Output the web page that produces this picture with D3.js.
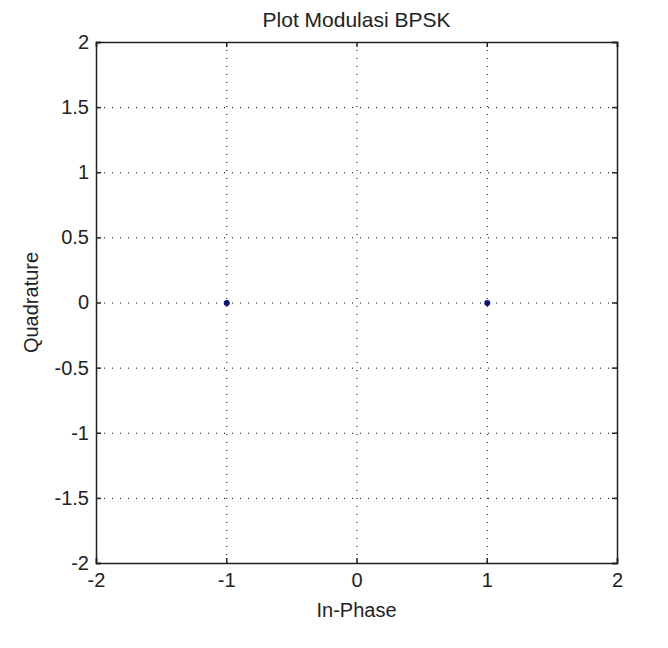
<!DOCTYPE html>
<html>
<head>
<meta charset="utf-8">
<script src="https://cdn.jsdelivr.net/npm/d3@7"></script>
<style>
  body { margin: 0; background: #fff; }
  text { font-family: "Liberation Sans", Arial, sans-serif; fill: #222; }
</style>
</head>
<body>
<svg id="chart" width="668" height="648"></svg>
<script>
// data
const inPhase = [-1, 1];
const quadrature = [0, 0];
const xTicks = [-2, -1, 0, 1, 2];
const yTicks = [-2, -1.5, -1, -0.5, 0, 0.5, 1, 1.5, 2];

// plot box (window.top is taken, so own names)
const plotL = 96, plotR = 617, plotT = 42, plotB = 563;
const svg = d3.select('#chart');

const x = d3.scaleLinear().domain([-2, 2]).range([plotL, plotR]);
const y = d3.scaleLinear().domain([-2, 2]).range([plotB, plotT]);

// grid
svg.append('g').selectAll('line')
    .data(xTicks.slice(1, -1))
    .enter().append('line')
    .attr('x1', d => x(d) + 0.5).attr('x2', d => x(d) + 0.5)
    .attr('y1', plotT).attr('y2', plotB)
    .style('stroke', '#000').style('stroke-dasharray', '1,7');

svg.append('g').selectAll('line')
    .data(yTicks.slice(1, -1))
    .enter().append('line')
    .attr('y1', d => y(d) + 0.5).attr('y2', d => y(d) + 0.5)
    .attr('x1', plotL).attr('x2', plotR)
    .style('stroke', '#000').style('stroke-dasharray', '1,7');

// axes (inward ticks, like matlab)
const fmt = d => String(d);
svg.append('g').attr('transform', `translate(0,${plotB})`)
    .call(d3.axisBottom(x).tickValues(xTicks).tickSize(-5).tickPadding(10).tickFormat(fmt));
svg.append('g').attr('transform', `translate(0,${plotT})`)
    .call(d3.axisTop(x).tickValues(xTicks).tickSize(-5).tickFormat(''));
svg.append('g').attr('transform', `translate(${plotL},0)`)
    .call(d3.axisLeft(y).tickValues(yTicks).tickSize(-5).tickPadding(7).tickFormat(fmt));
svg.append('g').attr('transform', `translate(${plotR},0)`)
    .call(d3.axisRight(y).tickValues(yTicks).tickSize(-5).tickFormat(''));

svg.selectAll('.domain').style('stroke', '#222').style('stroke-width', 1.5);
svg.selectAll('.tick line').style('stroke', '#222').style('stroke-width', 1.5);
svg.selectAll('.tick text').style('font-size', '20px').style('fill', '#222')
    .style('font-family', '"Liberation Sans", Arial, sans-serif');

// points
svg.append('g').selectAll('circle')
    .data(inPhase)
    .enter().append('circle')
    .attr('cx', d => x(d) + 0.5)
    .attr('cy', (d, i) => y(quadrature[i]) + 0.5)
    .attr('r', 3)
    .style('fill', '#10107a');

// labels
svg.append('text').attr('x', (plotL + plotR) / 2).attr('y', 27)
    .attr('text-anchor', 'middle').style('font-size', '21px').text('Plot Modulasi BPSK');
svg.append('text').attr('x', (plotL + plotR) / 2).attr('y', 617)
    .attr('text-anchor', 'middle').style('font-size', '20px').text('In-Phase');
svg.append('text').attr('transform', `translate(38,${(plotT + plotB) / 2}) rotate(-90)`)
    .attr('text-anchor', 'middle').style('font-size', '20px').text('Quadrature');
</script>
</body>
</html>
